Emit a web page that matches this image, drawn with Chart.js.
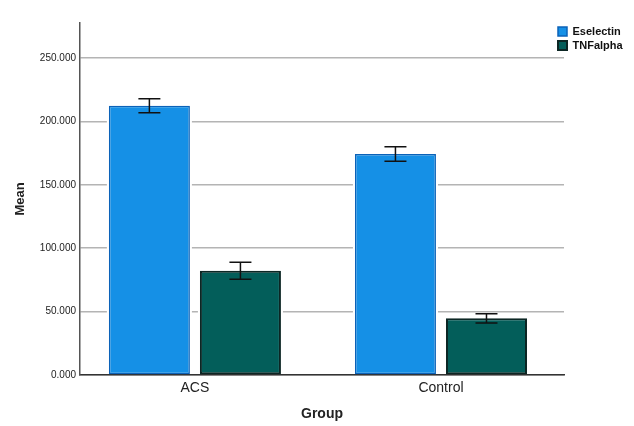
<!DOCTYPE html>
<html>
<head>
<meta charset="utf-8">
<script src="https://cdn.jsdelivr.net/npm/chart.js@4.4.1/dist/chart.umd.min.js"></script>
<style>
  html, body { margin: 0; padding: 0; background: #ffffff; }
  #wrap { width: 634px; height: 426px; position: relative; }
</style>
</head>
<body>
<div id="wrap"><canvas id="c"></canvas></div>
<script>
// ---- data ----
const groups = ["ACS", "Control"];
const seriesNames = ["Eselectin", "TNFalpha"];
const eselectinMean = [212.4, 174.3];
const eselectinErr = [5.5, 5.7];
const tnfalphaMean = [82.3, 44.7];
const tnfalphaErr = [6.7, 3.7];
const yTickValues = [0, 50, 100, 150, 200, 250];

Chart.defaults.font.family = 'Arial, "Liberation Sans", sans-serif';
Chart.defaults.color = '#222';

const errors = [eselectinErr, tnfalphaErr];

const barGapPlugin = {
  id: 'barGap',
  beforeDatasetsDraw(chart) {
    const ctx = chart.ctx;
    const base = chart.scales.y.getPixelForValue(0);
    ctx.save();
    ctx.fillStyle = '#ffffff';
    chart.data.datasets.forEach((ds, di) => {
      chart.getDatasetMeta(di).data.forEach(bar => {
        const p = bar.getProps(['x', 'y', 'width'], true);
        ctx.fillRect(p.x - p.width / 2 - 2, p.y - 2, p.width + 4, base - p.y + 1);
      });
    });
    ctx.restore();
  }
};

const errorBarPlugin = {
  id: 'errorBars',
  afterDatasetsDraw(chart) {
    const ctx = chart.ctx;
    const y = chart.scales.y;
    ctx.save();
    ctx.strokeStyle = '#111';
    ctx.lineWidth = 1.5;
    chart.data.datasets.forEach((ds, di) => {
      chart.getDatasetMeta(di).data.forEach((bar, i) => {
        const v = ds.data[i].y;
        const e = errors[di][i];
        const x = bar.x;
        const yt = y.getPixelForValue(v + e);
        const yb = y.getPixelForValue(v - e);
        ctx.beginPath();
        ctx.moveTo(x, yt); ctx.lineTo(x, yb);
        ctx.moveTo(x - 11, yt); ctx.lineTo(x + 11, yt);
        ctx.moveTo(x - 11, yb); ctx.lineTo(x + 11, yb);
        ctx.stroke();
      });
    });
    ctx.restore();
  }
};

const legendPlacePlugin = {
  id: 'legendPlace',
  beforeLayout(chart) {
    const lg = chart.legend;
    if (lg && !lg._fitPatched) {
      const orig = lg.fit;
      lg.fit = function () { orig.call(this); this.width = 70; };
      lg._fitPatched = true;
    }
  },
  afterLayout(chart) {
    const lg = chart.legend;
    if (lg) { lg.left -= 9; lg.right -= 9; }
  }
};

new Chart(document.getElementById('c'), {
  type: 'bar',
  data: {
    datasets: [
      {
        label: seriesNames[0],
        data: groups.map((g, i) => ({ x: i, y: eselectinMean[i] })),
        backgroundColor: '#1590e6',
        borderColor: '#0b62b8',
        borderWidth: 1.5,
        borderSkipped: false
      },
      {
        label: seriesNames[1],
        data: groups.map((g, i) => ({ x: i, y: tnfalphaMean[i] })),
        backgroundColor: '#035e5a',
        borderColor: '#0c2624',
        borderWidth: 2,
        borderSkipped: false
      }
    ]
  },
  options: {
    responsive: true,
    maintainAspectRatio: false,
    animation: false,
    categoryPercentage: 0.74,
    barPercentage: 0.89,
    layout: { padding: { top: 23, left: 0, right: 0, bottom: 0 } },
    plugins: {
      legend: {
        position: 'right',
        align: 'start',
        fullSize: false,
        labels: {
          boxWidth: 9,
          boxHeight: 9,
          padding: 3,
          color: '#111',
          font: { size: 11, weight: 'bold' }
        }
      },
      tooltip: { enabled: false }
    },
    scales: {
      x: {
        type: 'linear',
        min: -0.467,
        max: 1.5,
        offset: false,
        afterBuildTicks(scale) { scale.ticks = groups.map((g, i) => ({ value: i })); },
        afterFit(scale) { scale.height = 51; },
        ticks: {
          padding: 5,
          font: { size: 14 },
          color: '#222',
          callback: (v) => groups[v]
        },
        grid: { display: false, drawTicks: false },
        border: { display: true, color: '#333', width: 1.5 },
        title: {
          display: true,
          text: 'Group',
          color: '#222',
          font: { size: 14, weight: 'bold' },
          padding: { top: 0, bottom: 3 }
        }
      },
      y: {
        min: 0,
        max: 277.6,
        afterBuildTicks(scale) { scale.ticks = yTickValues.map(v => ({ value: v })); },
        afterFit(scale) { scale.width = 80; },
        ticks: {
          padding: 4,
          font: { size: 10 },
          color: '#222',
          callback: (v) => Number(v).toFixed(3)
        },
        grid: { color: '#b4b4b4', lineWidth: 1.5, drawTicks: false },
        border: { display: true, color: '#555', width: 1.5 },
        title: {
          display: true,
          text: 'Mean',
          color: '#222',
          font: { size: 13, weight: 'bold' },
          padding: { top: 13, bottom: 0 }
        }
      }
    }
  },
  plugins: [legendPlacePlugin, barGapPlugin, errorBarPlugin]
});
</script>
</body>
</html>
